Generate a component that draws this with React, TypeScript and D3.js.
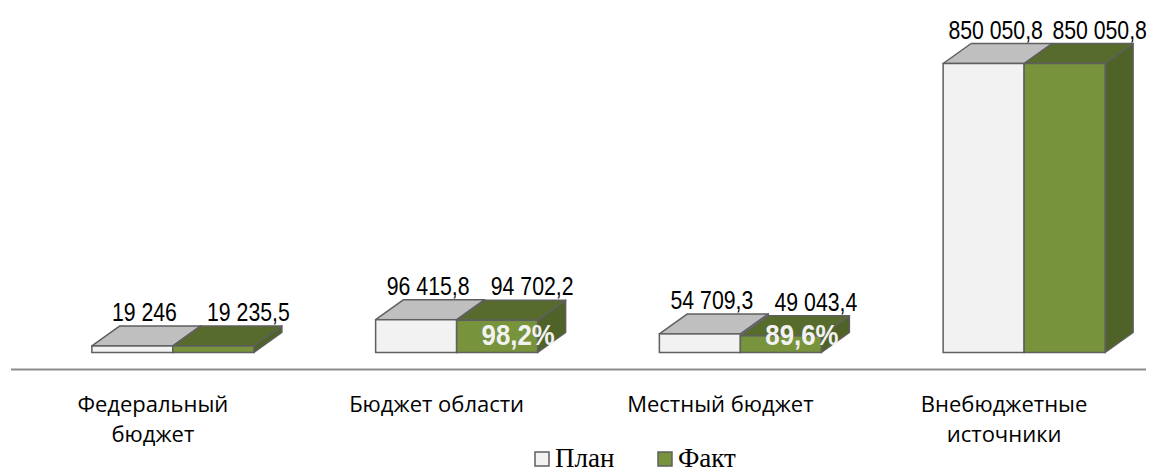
import React from "react";
import * as d3 from "d3";

const categories = ["Федеральный бюджет", "Бюджет области", "Местный бюджет", "Внебюджетные источники"];
const categoryLines = [["Федеральный", "бюджет"], ["Бюджет области"], ["Местный бюджет"], ["Внебюджетные", "источники"]];
const seriesNames = ["План", "Факт"];
const planValues = [19246, 96415.8, 54709.3, 850050.8];
const factValues = [19235.5, 94702.2, 49043.4, 850050.8];
const planLabels = ["19 246", "96 415,8", "54 709,3", "850 050,8"];
const factLabels = ["19 235,5", "94 702,2", "49 043,4", "850 050,8"];
const percentLabels = ["", "98,2%", "89,6%", ""];

const W = 1169, H = 472;
const axisLeft = 11, axisRight = 1146, axisY = 369.5;
const floorDx = 20, floorDy = -17; // bars sit behind the front axis
const depthDx = 28, depthDy = -20;
const floorY = axisY + floorDy;

const frontColors = ["#f2f2f2", "#77933c"];
const topColors = ["#bfbfbf", "#566b2c"];
const sideColors = ["#bfbfbf", "#4f6228"];
const stroke = "#5f5f5f";

export default function App() {
  const x = d3.scaleBand<string>().domain(categories).range([axisLeft, axisRight]).padding(0);
  const inner = d3.scaleBand<string>().domain(seriesNames).range([-81, 81]).padding(0);
  const y = d3.scaleLinear().domain([0, 850050.8]).range([floorY, 63.5]);
  const series = [planValues, factValues];
  const labels = [planLabels, factLabels];
  const labelOffsets = [12, 35];

  const bars: React.ReactNode[] = [];
  const texts: React.ReactNode[] = [];
  categories.forEach((c, i) => {
    const cx = (x(c) as number) + x.bandwidth() / 2 + floorDx;
    [0, 1].forEach((s) => {
      const x0 = cx + (inner(seriesNames[s]) as number);
      const x1 = x0 + inner.bandwidth();
      const yt = y(series[s][i]);
      const yb = floorY;
      const top = `M${x0},${yt} L${x0 + depthDx},${yt + depthDy} L${x1 + depthDx},${yt + depthDy} L${x1},${yt} Z`;
      const side = `M${x1},${yt} L${x1 + depthDx},${yt + depthDy} L${x1 + depthDx},${yb + depthDy} L${x1},${yb} Z`;
      bars.push(
        <g key={`b${i}-${s}`}>
          <path d={side} fill={sideColors[s]} stroke={stroke} strokeWidth={1.5} strokeLinejoin="round" />
          <path d={top} fill={topColors[s]} stroke={stroke} strokeWidth={1.5} strokeLinejoin="round" />
          <rect x={x0} y={yt} width={x1 - x0} height={yb - yt} fill={frontColors[s]} stroke={stroke} strokeWidth={1.5} />
        </g>
      );
      const lx = (x0 + x1) / 2 + labelOffsets[s];
      const ly = yt + depthDy - 5;
      texts.push(
        <text key={`l${i}-${s}`} transform={`translate(${lx},${ly}) scale(0.85,1)`} textAnchor="middle"
          fontFamily="'Liberation Sans', Arial, sans-serif" fontSize={25} fill="#000">{labels[s][i]}</text>
      );
      if (s === 1 && percentLabels[i]) {
        texts.push(
          <text key={`p${i}`} transform={`translate(${(x0 + x1) / 2 + 21},${yb - 8}) scale(0.89,1)`} textAnchor="middle"
            fontFamily="'Liberation Sans', Arial, sans-serif" fontWeight="bold" fontSize={29} fill="#f2f2f2">{percentLabels[i]}</text>
        );
      }
    });
  });

  return (
    <svg width={W} height={H} style={{ position: "absolute", left: 0, top: 0, background: "#fff" }}>
      <line x1={axisLeft} x2={axisRight} y1={axisY} y2={axisY} stroke="#8c8c8c" strokeWidth={2} />
      {bars}
      {texts}
      {categories.map((c, i) => {
        const cx = (x(c) as number) + x.bandwidth() / 2;
        return (
          <text key={`c${i}`} textAnchor="middle" fontFamily="'Open Sans', sans-serif" fontSize={22} fill="#000">
            {categoryLines[i].map((ln, k) => (
              <tspan key={k} x={cx} y={411.5 + k * 30}>{ln}</tspan>
            ))}
          </text>
        );
      })}
      {seriesNames.map((n, s) => {
        const lx = s === 0 ? 535 : 658;
        return (
          <g key={`lg${s}`}>
            <rect x={lx} y={452} width={14} height={14} fill={frontColors[s]} stroke={stroke} strokeWidth={1.5} />
            <text x={lx + 20} y={466.5} fontFamily="'Liberation Serif', 'Times New Roman', serif" fontSize={27} fill="#000">{n}</text>
          </g>
        );
      })}
    </svg>
  );
}
